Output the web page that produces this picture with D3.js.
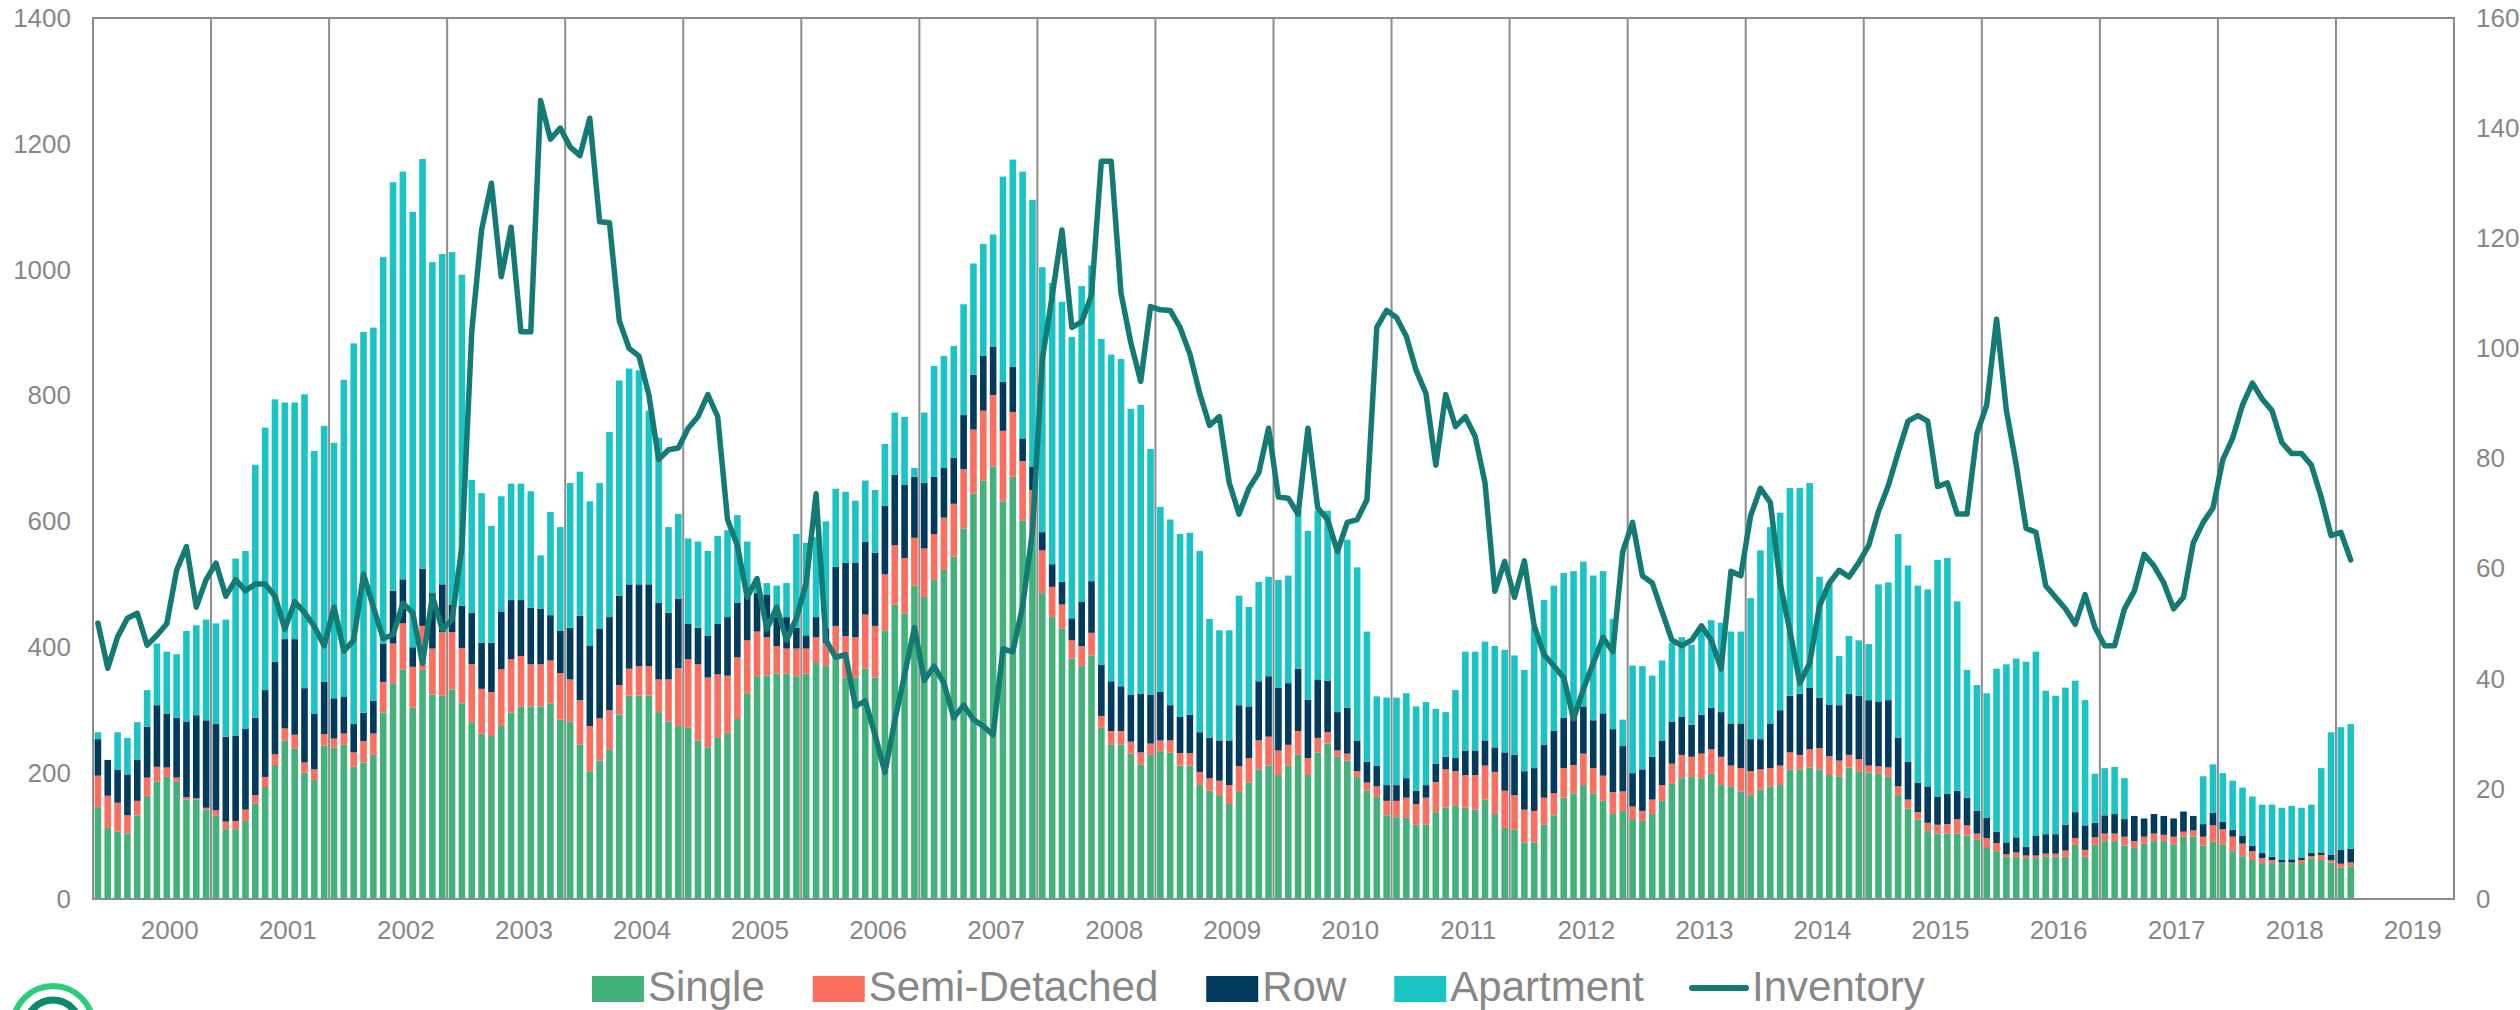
<!DOCTYPE html>
<html><head><meta charset="utf-8">
<script src="https://cdn.jsdelivr.net/npm/d3@7"></script>
<style>
body{margin:0;background:#fff}
svg{display:block}
text{font-family:"Liberation Sans",Arial,Helvetica,sans-serif}
</style>
</head><body>
<svg id="c" width="2520" height="1010"></svg>
<script>
// ---------- DATA (monthly, Jun 1999 – Jul 2018) ----------
const single = [
146,113,107,104,133,164,187,194,186,158,158,142,
133,111,111,124,152,178,213,252,239,201,189,244,
241,245,210,217,229,296,343,365,304,364,325,323,
333,311,281,263,259,275,296,306,306,306,311,285,
282,245,203,220,238,293,323,323,323,297,282,275,
272,252,241,256,264,286,326,354,355,358,358,354,
358,375,370,384,352,352,366,352,427,468,454,498,
480,507,523,544,589,644,665,687,632,671,601,580,
486,448,430,382,370,387,272,245,245,231,214,229,
235,233,212,212,181,172,165,151,170,185,206,212,
197,212,229,197,233,247,226,220,194,172,162,133,
130,129,118,118,138,145,149,145,142,158,135,113,
110,90,90,118,133,161,168,181,168,156,135,140,
127,124,135,156,183,192,194,192,199,181,179,171,
165,174,179,181,206,206,209,206,197,195,209,203,
201,199,194,165,144,126,108,104,104,104,101,95,
81,76,67,67,65,65,67,67,67,86,67,86,
92,92,85,81,88,92,92,87,99,99,85,91,
87,76,68,62,57,57,57,57,57,64,62,58,
50,52];
const semiDetached = [
50,51,46,29,23,29,23,15,7,4,2,3,
8,12,13,18,13,16,17,19,22,16,17,18,
14,18,23,34,34,49,63,73,65,70,73,101,
91,88,92,71,70,90,85,80,67,67,68,74,
67,71,72,67,62,47,43,47,47,52,67,92,
109,121,111,101,91,98,85,71,61,44,40,44,
40,41,37,50,66,64,86,82,89,94,88,76,
77,73,83,84,94,102,111,114,112,103,95,70,
68,48,38,29,32,36,19,22,22,19,19,18,
17,19,20,20,21,20,23,30,41,39,46,46,
39,33,38,27,23,18,10,11,9,13,17,23,
26,32,33,43,48,61,54,52,55,54,67,59,
55,52,50,43,35,47,45,50,40,40,35,31,
20,16,23,25,32,37,32,39,39,45,33,37,
38,32,29,31,27,23,29,34,30,25,20,19,
11,12,15,14,14,12,13,14,15,23,16,9,
16,13,4,7,4,4,5,5,10,11,11,12,
12,12,14,11,11,12,10,12,8,10,14,26,
24,23,20,14,8,5,1,1,5,4,8,4,
6,6];
const row = [
58,57,52,65,65,81,98,85,95,120,132,139,
137,135,135,129,123,138,147,142,152,118,88,83,
64,58,45,45,52,61,84,70,31,91,88,76,
44,67,82,73,78,92,94,89,90,88,72,67,
82,134,127,143,148,142,134,130,130,122,106,110,
56,58,66,80,93,87,75,61,68,46,50,33,
21,32,23,94,116,118,116,116,109,112,116,97,
104,91,79,73,86,87,87,77,78,72,36,37,
29,36,36,35,70,82,81,79,71,75,93,78,
77,56,58,61,63,64,64,71,97,82,94,96,
100,98,99,93,93,82,61,73,49,33,33,25,
25,31,21,20,29,20,21,39,39,40,39,61,
64,61,68,84,99,80,84,75,76,99,100,72,
53,66,68,71,67,61,51,62,66,71,67,71,
51,48,71,88,90,97,98,80,82,88,97,101,
104,103,107,77,60,47,58,45,48,45,44,36,
32,18,19,24,14,32,31,31,41,41,39,23,
29,31,28,40,29,31,30,29,32,23,20,20,
12,11,13,9,8,5,4,5,4,5,4,8,
22,22];
const apartment = [
11,0,60,58,60,58,98,99,101,144,143,160,
160,186,282,282,402,417,417,376,376,467,418,407,
406,504,605,605,593,614,649,648,692,651,526,525,
560,526,211,238,186,183,185,185,185,85,164,165,
230,229,230,231,294,342,343,340,276,262,136,135,
136,137,135,140,138,139,82,16,18,50,54,149,
147,127,170,124,113,99,97,100,98,99,108,14,
112,176,178,178,176,177,178,178,326,329,424,424,
421,447,445,447,502,502,518,519,520,454,459,390,
294,295,290,289,288,189,175,175,174,158,158,158,
171,171,251,268,268,270,265,267,275,207,110,139,
139,135,134,132,87,71,108,157,157,157,161,163,
158,161,223,230,231,230,224,230,230,226,175,42,
171,164,129,127,125,126,127,134,139,142,146,146,
224,300,312,314,330,327,325,192,193,78,92,88,
89,186,187,324,312,313,313,376,375,301,203,200,
198,259,283,284,294,292,228,220,218,209,199,78,
75,75,65,0,0,0,0,0,0,0,76,77,
77,78,76,78,77,83,83,85,79,77,134,195,
195,198];
const inventory = [
50.1,41.9,47.6,51,51.9,46.1,47.9,50,59.7,64,53,58,
61,55,58,56,57.2,57.2,55,49,54,52,49.5,46,
53,45,47,59,53,47.3,48,53.7,52,42.8,55,49,
50.7,64,103,121.5,130,113,122,103,103,145,138,140,
136.6,135,141.8,123,122.8,105,100,98.6,91.6,79.8,81.6,81.9,
85.5,87.6,91.6,87.6,68.9,64.2,54.8,58.2,49,53,47,51,
57.4,73.6,47,43.9,44.4,35,36,29.8,23,32.4,40.7,49.3,
39.7,42.3,39.2,32.9,35.2,32.6,31.4,29.8,45.4,44.9,53.2,66.8,
98,109.5,121.5,103.8,104.8,109.7,134,134,110,101,94,107.6,
107,106.9,103.8,99,91.8,86,87.6,75.6,69.9,74.6,77.4,85.5,
73,72.8,69.9,85.5,71,68.9,63.1,68.4,68.9,72.5,103.8,106.9,
105.6,102.2,96,91.8,78.8,91.6,85.8,87.6,84,75.6,55.9,61.3,
54.8,61.4,49.6,44.4,42.3,40.2,32.7,38.1,42.8,47.5,44.9,63.1,
68.4,58.7,57.4,52.2,47,46,47,49.6,47,41.8,59.5,58.7,
69.6,74.6,72,57.4,48.6,39.2,42.8,53.2,57.4,59.7,58.5,61.1,
64.2,70.4,75.1,81.1,86.8,87.8,86.8,74.9,75.6,69.9,69.9,84.5,
89.7,105.3,88.7,78.8,67.3,66.6,56.9,54.8,52.7,49.9,55.3,49.3,
46,46,52.7,55.9,62.6,60.5,57.4,52.7,54.8,64.7,68.4,71,
79.8,83.7,89.7,93.7,90.8,88.7,82.9,80.9,80.9,78.8,73,66,
66.6,61.6];

const years = ["2000","2001","2002","2003","2004","2005","2006","2007","2008","2009",
               "2010","2011","2012","2013","2014","2015","2016","2017","2018","2019"];
const leftTicks = [0,200,400,600,800,1000,1200,1400];
const rightTicks = [0,20,40,60,80,100,120,140,160];
const barSeries = ["Single","Semi-Detached","Row","Apartment"];
const lineSeries = "Inventory";
const months = d3.timeMonth.range(new Date(1999,5,1), new Date(2018,7,1)).map(d3.timeFormat("%Y-%m"));

// ---------- STYLE ----------
const colors = {"Single":"#42B27A","Semi-Detached":"#FC6E5E","Row":"#003A5D","Apartment":"#1AC4C4","Inventory":"#137A74"};
const gridColor = "#8C8C8C", textColor = "#878787";

// ---------- LAYOUT ----------
const L = 93, R = 2454, T = 18, B = 899;
const svg = d3.select("#c");

const slots = d3.range(years.length * 12);
const x = d3.scaleBand().domain(slots).range([L, R]).paddingInner(0.33).paddingOuter(0.165);
const yL = d3.scaleLinear().domain([0, 1400]).range([B, T]);
const yR = d3.scaleLinear().domain([0, 160]).range([B, T]);

const rows = months.map((m, i) => ({
  i, month: m,
  "Single": single[i], "Semi-Detached": semiDetached[i],
  "Row": row[i], "Apartment": apartment[i], "Inventory": inventory[i]
}));

// vertical year separators (behind bars)
const edge = i => x(i) - x.step() * x.paddingOuter();
svg.append("g").selectAll("line").data(d3.range(1, years.length)).join("line")
  .attr("x1", k => edge(k * 12)).attr("x2", k => edge(k * 12))
  .attr("y1", T).attr("y2", B)
  .attr("stroke", gridColor).attr("stroke-width", 2);

// stacked bars
const stacked = d3.stack().keys(barSeries)(rows);
svg.append("g").selectAll("g").data(stacked).join("g")
  .attr("fill", s => colors[s.key])
  .selectAll("rect").data(s => s).join("rect")
  .attr("x", d => x(d.data.i))
  .attr("width", x.bandwidth())
  .attr("y", d => yL(d[1]))
  .attr("height", d => Math.max(0, yL(d[0]) - yL(d[1])));

// plot frame
svg.append("rect").attr("x", L).attr("y", T).attr("width", R - L).attr("height", B - T)
  .attr("fill", "none").attr("stroke", gridColor).attr("stroke-width", 2);

// inventory line
const line = d3.line()
  .x(d => x(d.i) + x.bandwidth() / 2)
  .y(d => yR(d.Inventory));
svg.append("path").datum(rows).attr("d", line)
  .attr("fill", "none").attr("stroke", colors.Inventory)
  .attr("stroke-width", 5.5).attr("stroke-linejoin", "round").attr("stroke-linecap", "round");

// axes
const fmt = d3.format("d");
const axL = svg.append("g").attr("transform", `translate(${L},0)`)
  .call(d3.axisLeft(yL).tickValues(leftTicks).tickFormat(fmt).tickSize(0).tickPadding(22));
const axR = svg.append("g").attr("transform", `translate(${R},0)`)
  .call(d3.axisRight(yR).tickValues(rightTicks).tickFormat(fmt).tickSize(0).tickPadding(22));
[axL, axR].forEach(a => {
  a.select(".domain").remove();
  a.selectAll("text").attr("font-size", 26).attr("fill", textColor)
    .attr("font-family", '"Liberation Sans",Arial,sans-serif');
});

// year labels (placed at January of each year)
svg.append("g").selectAll("text").data(years).join("text")
  .attr("x", (yr, k) => x(k * 12 + 7) + x.bandwidth() / 2 + 3)
  .attr("y", 939)
  .attr("text-anchor", "middle")
  .attr("font-size", 26).attr("fill", textColor)
  .text(d => d);

// legend
const lg = svg.append("g");
let lx = 592;
const legendItems = barSeries.concat([lineSeries]);
legendItems.forEach(name => {
  if (name === lineSeries) {
    lg.append("line").attr("x1", lx).attr("x2", lx + 54).attr("y1", 988).attr("y2", 988)
      .attr("stroke", colors[name]).attr("stroke-width", 6).attr("stroke-linecap", "round");
    lx += 60;
  } else {
    lg.append("rect").attr("x", lx).attr("y", 976).attr("width", 52).attr("height", 26)
      .attr("fill", colors[name]);
    lx += 56;
  }
  const t = lg.append("text").attr("x", lx).attr("y", 1001)
    .attr("font-size", 42).attr("fill", textColor).text(name);
  lx += t.node().getComputedTextLength() + 48;
});

// logo (partially visible at bottom-left)
svg.append("circle").attr("cx", 53).attr("cy", 1026).attr("r", 40)
  .attr("fill", "none").attr("stroke", "#2ECC7A").attr("stroke-width", 6);
svg.append("circle").attr("cx", 53).attr("cy", 1027).attr("r", 27)
  .attr("fill", "none").attr("stroke", "#0B8A6E").attr("stroke-width", 7);
</script>
</body></html>
